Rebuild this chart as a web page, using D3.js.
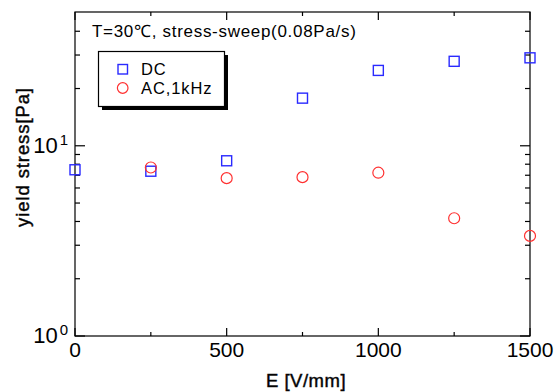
<!DOCTYPE html>
<html><head><meta charset="utf-8">
<script src="https://cdn.jsdelivr.net/npm/d3@7"></script>
<style>body{margin:0;background:#fff}svg{display:block}text{font-family:"Liberation Sans",Arial,sans-serif;fill:#000}</style>
</head><body>
<script>
const fields = [0, 250, 500, 750, 1000, 1250, 1500];
const dcValues = [7.48, 7.35, 8.34, 17.8, 24.9, 27.8, 29.0];
const acFields = [250, 500, 750, 1000, 1250, 1500];
const acValues = [7.69, 6.76, 6.84, 7.22, 4.16, 3.36];
const xMajorTicks = [0, 500, 1000, 1500];
const xMinorTicks = [250, 750, 1250];
const yMajorTicks = [1, 10];
const yMinorTicks = [2, 3, 4, 5, 6, 7, 8, 9, 20, 30, 40];
const seriesNames = ["DC", "AC,1kHz"];
const note = "T=30\u2103, stress-sweep(0.08Pa/s)";

const W = 556, H = 392;
const m = {l: 75, r: 26, t: 12, b: 56};
const svg = d3.select("body").append("svg").attr("width", W).attr("height", H);
const x = d3.scaleLinear().domain([0, 1500]).range([m.l, W - m.r]);
const y = d3.scaleLog().domain([1, 50.5]).range([H - m.b, m.t]);
const x0 = m.l, x1 = W - m.r, y0 = H - m.b, y1 = m.t;

// frame
svg.append("rect").attr("x", x0).attr("y", y1).attr("width", x1 - x0).attr("height", y0 - y1)
  .attr("fill", "none").attr("stroke", "#000").attr("stroke-width", 1.2);

const ax = svg.append("g").attr("stroke", "#000").attr("stroke-width", 1.2);
xMajorTicks.forEach(v => {
  ax.append("line").attr("x1", x(v)).attr("x2", x(v)).attr("y1", y0).attr("y2", y0 - 8);
  ax.append("line").attr("x1", x(v)).attr("x2", x(v)).attr("y1", y1).attr("y2", y1 + 8);
});
xMinorTicks.forEach(v => {
  ax.append("line").attr("x1", x(v)).attr("x2", x(v)).attr("y1", y0).attr("y2", y0 - 4);
  ax.append("line").attr("x1", x(v)).attr("x2", x(v)).attr("y1", y1).attr("y2", y1 + 4);
});
yMajorTicks.forEach(v => {
  ax.append("line").attr("x1", x0).attr("x2", x0 + 10).attr("y1", y(v)).attr("y2", y(v));
  ax.append("line").attr("x1", x1).attr("x2", x1 - 10).attr("y1", y(v)).attr("y2", y(v));
});
yMinorTicks.forEach(v => {
  ax.append("line").attr("x1", x0).attr("x2", x0 + 5).attr("y1", y(v)).attr("y2", y(v));
  ax.append("line").attr("x1", x1).attr("x2", x1 - 5).attr("y1", y(v)).attr("y2", y(v));
});

// x tick labels
xMajorTicks.forEach(v => {
  svg.append("text").attr("x", x(v)).attr("y", y0 + 21).attr("text-anchor", "middle")
    .attr("font-size", 21).attr("fill", "#111").text(v);
});
// y tick labels 10^n
yMajorTicks.forEach(v => {
  const t = svg.append("text").attr("x", x0 - 7).attr("y", y(v) + 7).attr("text-anchor", "end")
    .attr("fill", "#111");
  t.append("tspan").attr("font-size", 22).text("10");
  t.append("tspan").attr("dx", 2).attr("dy", -8).attr("font-size", 15).text(Math.round(Math.log10(v)));
});

// axis titles
svg.append("text").attr("x", 306).attr("y", 387).attr("text-anchor", "middle")
  .attr("font-size", 18.5).attr("letter-spacing", 0.5).attr("fill", "#111")
  .attr("stroke", "#111").attr("stroke-width", 0.45).text("E [V/mm]");
svg.append("text").attr("transform", "translate(29,157) rotate(-90)")
  .attr("text-anchor", "middle").attr("font-size", 18.5).attr("letter-spacing", 0.9).attr("fill", "#111")
  .attr("stroke", "#111").attr("stroke-width", 0.45).text("yield stress[Pa]");

// note
svg.append("text").attr("x", 92).attr("y", 37).attr("font-size", 17).attr("letter-spacing", 0.7)
  .attr("fill", "#222").text(note);

// data
const blue = "#2a2aff", red = "#ff3030";
svg.append("g").selectAll("rect").data(fields.map((f, i) => [f, dcValues[i]])).join("rect")
  .attr("x", d => x(d[0]) - 5).attr("y", d => y(d[1]) - 5).attr("width", 10).attr("height", 10)
  .attr("fill", "none").attr("stroke", blue).attr("stroke-width", 1.4);
svg.append("g").selectAll("circle").data(acFields.map((f, i) => [f, acValues[i]])).join("circle")
  .attr("cx", d => x(d[0])).attr("cy", d => y(d[1])).attr("r", 5.5)
  .attr("fill", "none").attr("stroke", red).attr("stroke-width", 1.2);

// legend
const lg = svg.append("g");
lg.append("rect").attr("x", 102).attr("y", 55).attr("width", 126).attr("height", 55).attr("fill", "#000");
lg.append("rect").attr("x", 98.5).attr("y", 51.5).attr("width", 126).attr("height", 55)
  .attr("fill", "#fff").attr("stroke", "#000").attr("stroke-width", 1.2);
lg.append("rect").attr("x", 118).attr("y", 64.5).attr("width", 9.5).attr("height", 9.5)
  .attr("fill", "none").attr("stroke", blue).attr("stroke-width", 1.4);
lg.append("circle").attr("cx", 122.7).attr("cy", 88).attr("r", 5.3)
  .attr("fill", "none").attr("stroke", red).attr("stroke-width", 1.2);
lg.append("text").attr("x", 141).attr("y", 75).attr("font-size", 16.5).attr("letter-spacing", 0.9).attr("fill", "#222").text(seriesNames[0]);
lg.append("text").attr("x", 141).attr("y", 94).attr("font-size", 16.5).attr("letter-spacing", 0.9).attr("fill", "#222").text(seriesNames[1]);
</script>
</body></html>
